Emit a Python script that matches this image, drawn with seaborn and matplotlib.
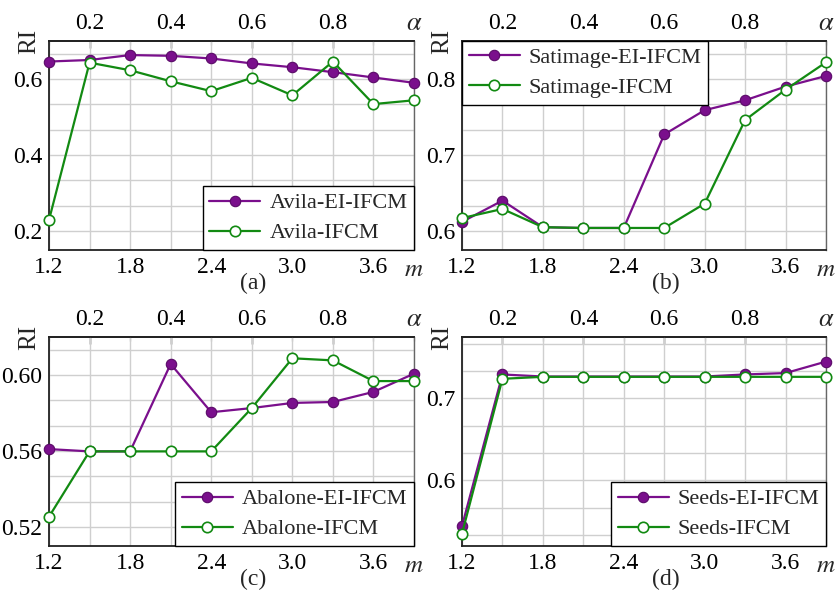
import numpy as np
import pandas as pd
import matplotlib
matplotlib.use("Agg")
import matplotlib.pyplot as plt
from matplotlib.ticker import MultipleLocator, FixedLocator
import seaborn as sns

sns.set_theme(style="white")
plt.rcParams["font.family"] = ["Liberation Serif", "DejaVu Serif"]
plt.rcParams["mathtext.fontset"] = "stix"

# Fuzzifier m (bottom axis) and the matching alpha (top axis)
m_values = [1.2, 1.5, 1.8, 2.1, 2.4, 2.7, 3.0, 3.3, 3.6, 3.9]

avila_ei = [0.646, 0.650, 0.663, 0.661, 0.654, 0.641, 0.631, 0.618, 0.604, 0.590]
avila_ifcm = [0.229, 0.643, 0.623, 0.594, 0.568, 0.603, 0.557, 0.646, 0.534, 0.544]

satimage_ei = [0.612, 0.640, 0.605, 0.604, 0.604, 0.727, 0.759, 0.772, 0.790, 0.804]
satimage_ifcm = [0.617, 0.629, 0.605, 0.604, 0.604, 0.604, 0.636, 0.746, 0.786, 0.822]

abalone_ei = [0.5610, 0.5598, 0.5598, 0.6058, 0.5804, 0.5826, 0.5853, 0.5858, 0.5911, 0.6007]
abalone_ifcm = [0.5254, 0.5598, 0.5598, 0.5598, 0.5598, 0.5826, 0.6088, 0.6077, 0.5968, 0.5968]

seeds_ei = [0.5443, 0.7293, 0.7268, 0.7268, 0.7268, 0.7268, 0.7268, 0.7293, 0.7310, 0.7450]
seeds_ifcm = [0.5350, 0.7240, 0.7264, 0.7264, 0.7264, 0.7264, 0.7264, 0.7264, 0.7264, 0.7264]

bottom_ticks = [1.2, 1.8, 2.4, 3.0, 3.6]
top_ticks = [0.2, 0.4, 0.6, 0.8]

PURPLE = "#7a0f8c"
GREEN = "#128a12"

panels = [
    dict(name="Avila", ei=avila_ei, ifcm=avila_ifcm, ylim=(0.15, 0.70),
         major=0.2, yticks=[0.2, 0.4, 0.6], fmt="{:.1f}", loc="lower right", tag="(a)"),
    dict(name="Satimage", ei=satimage_ei, ifcm=satimage_ifcm, ylim=(0.575, 0.85),
         major=0.1, yticks=[0.6, 0.7, 0.8], fmt="{:.1f}", loc="upper left", tag="(b)"),
    dict(name="Abalone", ei=abalone_ei, ifcm=abalone_ifcm, ylim=(0.51, 0.62),
         major=0.04, yticks=[0.52, 0.56, 0.60], fmt="{:.2f}", loc="lower right", tag="(c)"),
    dict(name="Seeds", ei=seeds_ei, ifcm=seeds_ifcm, ylim=(0.52, 0.775),
         major=0.1, yticks=[0.6, 0.7], fmt="{:.1f}", loc="lower right", tag="(d)"),
]

W, H = 839, 591
fig = plt.figure(figsize=(W / 100, H / 100), dpi=100)

# axes boxes in pixels: left, top, right, bottom
boxes = [(49, 41, 414, 250), (462, 41, 826, 250),
         (49, 337, 414, 546), (462, 337, 826, 546)]

FS = 17
LEG_FS = 16


def m_to_alpha(m):
    return (np.asarray(m) - 1.2) / 3.0 + 0.1


def alpha_to_m(a):
    return (np.asarray(a) - 0.1) * 3.0 + 1.2


for p, (l, t, r, b) in zip(panels, boxes):
    ax = fig.add_axes([l / W, 1 - b / H, (r - l) / W, (b - t) / H])
    df = pd.DataFrame({"m": m_values, "ei": p["ei"], "ifcm": p["ifcm"]})

    sns.lineplot(data=df, x="m", y="ei", ax=ax, color=PURPLE, lw=1.6,
                 marker="o", markersize=7.5, markerfacecolor=PURPLE,
                 markeredgecolor="#5a0a68", markeredgewidth=0.8,
                 label=f"{p['name']}-EI-IFCM", zorder=3, clip_on=False)
    sns.lineplot(data=df, x="m", y="ifcm", ax=ax, color=GREEN, lw=1.6,
                 marker="o", markersize=7.5, markerfacecolor="white",
                 markeredgecolor=GREEN, markeredgewidth=1.2,
                 label=f"{p['name']}-IFCM", zorder=4, clip_on=False)

    ax.set_xlim(1.2, 3.9)
    ax.set_ylim(*p["ylim"])
    ax.set_xlabel("")
    ax.set_ylabel("")

    ax.xaxis.set_major_locator(FixedLocator(bottom_ticks))
    ax.xaxis.set_minor_locator(MultipleLocator(0.3))
    ax.set_xticklabels([f"{v:.1f}" for v in bottom_ticks])
    ax.yaxis.set_major_locator(FixedLocator(p["yticks"]))
    ax.yaxis.set_minor_locator(MultipleLocator(p["major"] / 3))
    ax.set_yticklabels([p["fmt"].format(v) for v in p["yticks"]])

    ax.grid(True, which="both", color="#cfcfcf", lw=1.0)
    ax.set_axisbelow(True)
    ax.tick_params(axis="both", which="both", direction="in", labelsize=FS,
                   colors="#333333", labelcolor="black", pad=5)
    ax.tick_params(which="major", length=5, width=1.0)
    ax.tick_params(which="minor", length=3, width=0.8)
    ax.tick_params(axis="x", which="both", top=False)

    for side in ("left", "bottom", "top"):
        ax.spines[side].set_color("#222222")
        ax.spines[side].set_linewidth(1.3)
    ax.spines["right"].set_color("#666666")
    ax.spines["right"].set_linewidth(1.0)

    sec = ax.secondary_xaxis("top", functions=(m_to_alpha, alpha_to_m))
    sec.xaxis.set_major_locator(FixedLocator(top_ticks))
    sec.xaxis.set_minor_locator(MultipleLocator(0.1))
    sec.set_xticklabels([f"{v:.1f}" for v in top_ticks])
    sec.tick_params(axis="x", which="both", direction="in", labelsize=FS,
                    colors="#222222", labelcolor="black", pad=5)
    sec.tick_params(which="major", length=5, width=1.0)
    sec.tick_params(which="minor", length=3, width=0.8)
    sec.spines["top"].set_color("#222222")
    sec.spines["top"].set_linewidth(1.3)

    ax.text(1.0, -0.045, r"$m$", transform=ax.transAxes, fontsize=FS + 1,
            ha="center", va="top")
    ax.text(1.0, 1.03, r"$\alpha$", transform=ax.transAxes, fontsize=FS + 2,
            ha="center", va="bottom")
    ax.text(-0.025, 1.0, "RI", transform=ax.transAxes, fontsize=FS + 1,
            rotation=90, ha="right", va="center")
    ax.text(0.56, -0.158, p["tag"], transform=ax.transAxes, fontsize=FS,
            ha="center", va="center")

    leg = ax.legend(loc=p["loc"], fontsize=LEG_FS, frameon=True, fancybox=False,
                    handlelength=2.3, borderpad=0.3, labelspacing=0.42,
                    handletextpad=0.4, borderaxespad=0.0)
    leg.get_frame().set_edgecolor("black")
    leg.get_frame().set_linewidth(1.0)
    leg.get_frame().set_alpha(1.0)

fig.savefig("out.png", dpi=100)
